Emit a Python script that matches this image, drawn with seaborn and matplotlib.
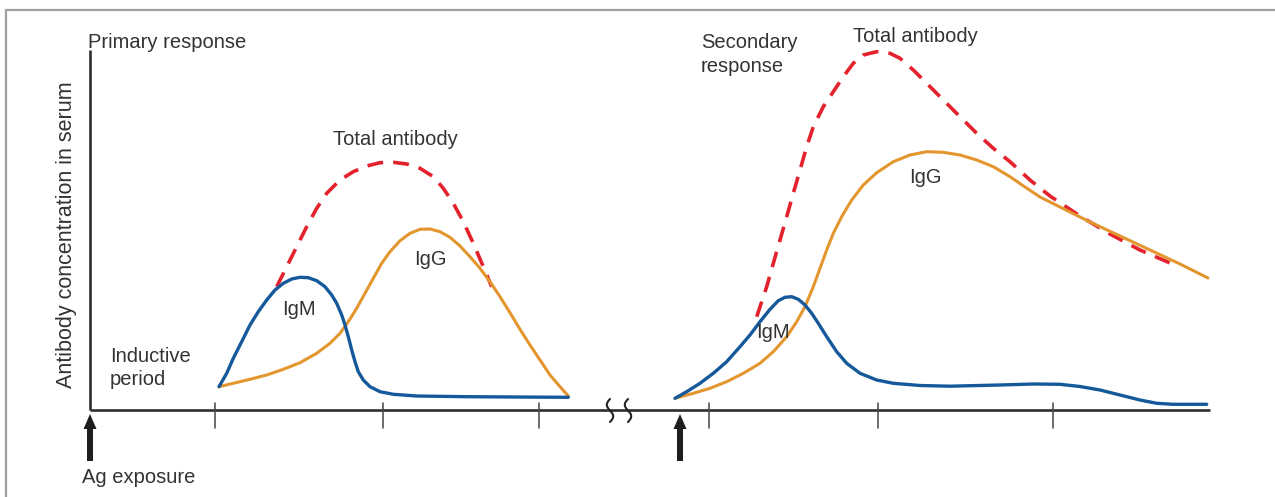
import numpy as np
import matplotlib
matplotlib.use("Agg")
import matplotlib.pyplot as plt
from matplotlib.lines import Line2D
import seaborn as sns

# ---- data: time (arbitrary units) vs antibody concentration (arbitrary units) ----
# primary response
igm1_t = [129, 136.7, 143.3, 151.7, 160, 168.3, 176.7, 185, 193.3, 201.7, 210, 218.3, 226.7, 235,
          241.7, 246.7, 251.7, 255, 258.3, 261.7, 265, 268.3, 273.3, 280, 290, 303.3, 326.7, 376.7, 478.3]
igm1_c = [23.3, 36.7, 51.7, 68.3, 85, 98.3, 110, 120, 126.7, 131, 132.7, 132.3, 129.3, 123.3,
          115, 106.7, 95, 85, 73.3, 60, 48.3, 38.3, 30, 23.3, 18.3, 15.7, 14, 13.3, 12.7]

igg1_t = [129, 143.3, 160, 176.7, 193.3, 210, 226.7, 240, 250, 258.3, 266.7, 275, 283.3, 291.7, 300,
          310, 320, 330, 340, 350, 360, 370, 380, 390, 400, 410, 420, 430, 440, 450, 460, 470, 478.3]
igg1_c = [23.3, 26.7, 30.7, 35, 40.7, 47.3, 56.7, 66.7, 76.7, 88.3, 101.7, 116.7, 131.7, 146.7, 158.3,
          169.3, 176.7, 180.7, 181, 178.3, 172.7, 164, 153.3, 141.7, 128.3, 113.3, 97.3, 80.7, 65, 50,
          35, 23.3, 14]

tot1_t = [186.7, 196.7, 206.7, 216.7, 226.7, 236.7, 250, 263.3, 276.7, 290, 303.3, 316.7, 330,
          343.3, 353.3, 363.3, 373.3, 383.3, 393.3, 401.7]
tot1_c = [123.3, 143.3, 163.3, 183.3, 201.7, 216.7, 230, 238.3, 244, 247.3, 247.7, 246, 241.7,
          233.3, 221.7, 206.7, 188.3, 166.7, 143.3, 123.3]

# secondary response
igm2_t = [585, 596.7, 610, 623.3, 636.7, 650, 660, 670, 680, 688.3, 695, 701.7, 708.3, 715, 721.7,
          728.3, 736.7, 746.7, 756.7, 770, 786.7, 803.3, 830, 860, 910, 943.3, 970, 990, 1010,
          1030, 1050, 1066.7, 1083.3, 1116.7]
igm2_c = [11.7, 18.3, 26.7, 36.7, 48.3, 63.3, 75, 88.3, 100.7, 109.3, 112.7, 113.3, 110.7, 105, 96.7,
          86.7, 73.3, 58.3, 46.7, 36.7, 30, 26.7, 24.5, 23.8, 25, 26, 25.7, 23.5, 20,
          15, 10, 6.7, 5.7, 5.7]

igg2_t = [585, 603.3, 620, 636.7, 653.3, 670, 683.3, 696.7, 706.7, 715, 723.3, 730, 736.7, 743.3,
          751.7, 761.7, 773.3, 786.7, 803.3, 820, 836.7, 853.3, 870, 886.7, 903.3, 920, 935,
          950, 970, 1000, 1030, 1060, 1090, 1118]
igg2_c = [11.7, 16.7, 21.7, 28.3, 36.7, 46.7, 58.3, 73.3, 88.3, 103.3, 123.3, 141.7, 160, 176.7,
          193.3, 210, 225, 237.3, 248.3, 255, 258.3, 257.7, 255, 250, 243.3, 233.3, 223,
          213, 203, 188, 174, 160, 146, 132]

tot2_t = [666.7, 676.7, 683.3, 690, 696.7, 703.3, 710, 716.7, 723.3, 733.3, 743.3, 753.3, 763.3,
          773.3, 786.7, 800, 810, 823.3, 836.7, 853.3, 870, 886.7, 903.3, 920, 940, 960,
          990, 1020, 1050, 1080]
tot2_c = [93.3, 123.3, 146.7, 170, 193.3, 216.7, 240, 263.3, 283.3, 303.3, 318.3, 333.3, 346.7,
          355, 358.3, 356.7, 351.7, 340, 326.7, 310, 293.3, 276.7, 261.7, 248.3, 230, 214,
          194, 176, 160, 147]

tick_t = [125, 293, 449, 619, 788, 963]
exposure_t = [0, 590]
break_t = [520, 538]

# ---- styling ----
BLUE = "#15599b"
ORANGE = "#e3962e"
RED = "#e3222d"
AXIS = "#2e2e2e"
TEXT = "#333333"

sns.set_theme(style="white")
plt.rcParams["font.family"] = ["Liberation Sans", "DejaVu Sans"]

fig = plt.figure(figsize=(12.75, 4.97), dpi=100)
ax = fig.add_axes([0, 0, 1, 1])
ax.set_xlim(-90, 1185)
ax.set_ylim(-87, 410)
ax.axis("off")

# outer frame (top and left edges)
fig.add_artist(Line2D([6 / 1275, 1], [1 - 10 / 497, 1 - 10 / 497], color="#a0a0a0", lw=1.6))
fig.add_artist(Line2D([6 / 1275, 6 / 1275], [0, 1 - 10 / 497], color="#a0a0a0", lw=1.6))

# axes
ax.plot([0, 0], [0, 360], color=AXIS, lw=1.9, solid_capstyle="butt")
ax.plot([0, 1120], [0, 0], color=AXIS, lw=1.9, solid_capstyle="butt")
for t in tick_t:
    ax.plot([t, t], [7, -18], color="#444444", lw=1.1)

# axis break marks
s = np.linspace(0, 1, 60)
for t0 in break_t:
    ax.plot(t0 + 3.2 * np.sin(2 * np.pi * s + np.pi), 11 - 23 * s, color="#222222", lw=1.5)

# antigen exposure arrows
for t in exposure_t:
    ax.arrow(t, -51, 0, 47, width=6, head_width=13, head_length=15,
             length_includes_head=True, color="#1e1e1e", lw=0)

# curves
curve_kw = dict(ax=ax, estimator=None, sort=False, legend=False)
dash = (0, (4.4, 2.8))
sns.lineplot(x=tot1_t, y=tot1_c, color=RED, lw=2.6, linestyle=dash, **curve_kw)
sns.lineplot(x=tot2_t, y=tot2_c, color=RED, lw=2.6, linestyle=dash, **curve_kw)
sns.lineplot(x=igg1_t, y=igg1_c, color=ORANGE, lw=2.2, **curve_kw)
sns.lineplot(x=igg2_t, y=igg2_c, color=ORANGE, lw=2.2, **curve_kw)
sns.lineplot(x=igm1_t, y=igm1_c, color=BLUE, lw=2.4, **curve_kw)
sns.lineplot(x=igm2_t, y=igm2_c, color=BLUE, lw=2.4, **curve_kw)
for line in ax.get_lines()[-6:]:
    line.set_solid_joinstyle("round")
    line.set_solid_capstyle("round")

# labels
fs = 14.5
tk = dict(color=TEXT, fontsize=fs)
ax.text(-2, 362, "Primary response", ha="left", va="baseline", **tk)
ax.text(-23, 175, "Antibody concentration in serum", rotation=90, ha="center", va="center",
        color=TEXT, fontsize=15.5)
ax.text(305, 265, "Total antibody", ha="center", va="baseline", **tk)
ax.text(825, 368, "Total antibody", ha="center", va="baseline", **tk)
ax.text(611, 362, "Secondary", ha="left", va="baseline", **tk)
ax.text(611, 338, "response", ha="left", va="baseline", **tk)
ax.text(20, 48, "Inductive", ha="left", va="baseline", **tk)
ax.text(20, 25, "period", ha="left", va="baseline", **tk)
ax.text(-8, -73, "Ag exposure", ha="left", va="baseline", **tk)
ax.text(209, 95, "IgM", ha="center", va="baseline", **tk)
ax.text(340, 145, "IgG", ha="center", va="baseline", **tk)
ax.text(835, 227, "IgG", ha="center", va="baseline", **tk)
ax.text(683, 72, "IgM", ha="center", va="baseline", **tk)

fig.savefig("out.png", dpi=100, facecolor="white")
